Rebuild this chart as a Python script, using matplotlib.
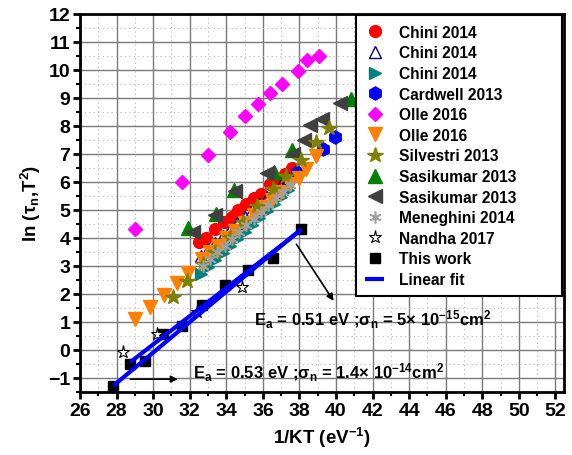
import numpy as np
import matplotlib
matplotlib.use("Agg")
import matplotlib.pyplot as plt
from matplotlib.ticker import MultipleLocator

plt.rcParams['font.family'] = ['Liberation Sans', 'DejaVu Sans']
plt.rcParams['font.weight'] = 'bold'
plt.rcParams['mathtext.fontset'] = 'custom'
plt.rcParams['mathtext.bf'] = 'Liberation Sans:bold'
plt.rcParams['mathtext.rm'] = 'Liberation Sans:bold'
plt.rcParams['mathtext.it'] = 'Liberation Sans:bold'
plt.rcParams['mathtext.default'] = 'bf'

# ---------------- data ----------------
chini1_x = [32.5, 32.9, 33.4, 33.85, 34.3, 34.65, 35.1, 35.5, 35.9, 36.4, 36.75, 37.2, 37.6]
chini1_y = [3.84, 4.0, 4.3, 4.55, 4.75, 4.98, 5.2, 5.42, 5.56, 5.9, 6.1, 6.28, 6.5]

chini2_x = [32.6, 33.0, 33.4, 33.8, 34.2, 34.6, 35.0, 35.4, 35.8, 36.2, 36.6, 37.0, 37.4, 37.8]
chini2_y = [3.35, 3.58, 3.82, 4.05, 4.28, 4.52, 4.75, 4.98, 5.21, 5.45, 5.68, 5.91, 6.14, 6.37]

chini3_x = [32.6, 33.0, 33.4, 33.8, 34.2, 34.6, 35.0, 35.4, 35.8, 36.2, 36.6, 37.0, 37.4]
chini3_y = [2.72, 2.97, 3.22, 3.47, 3.72, 3.97, 4.22, 4.46, 4.71, 4.96, 5.21, 5.46, 5.70]

cardwell_x = [37.84, 39.3, 39.97]
cardwell_y = [6.36, 7.18, 7.58]

olle1_x = [29.0, 31.56, 33.0, 34.2, 35.0, 35.75, 36.4, 37.05, 37.9, 38.4, 39.05]
olle1_y = [4.3, 5.97, 6.96, 7.76, 8.33, 8.76, 9.17, 9.5, 9.96, 10.35, 10.48]

olle2_x = [29.0, 29.8, 30.6, 31.28, 31.89, 32.65, 33.1, 33.55, 34.0, 34.5, 35.0, 35.5,
           36.0, 36.5, 37.0, 37.5, 38.0, 38.38, 38.92]
olle2_y = [1.1, 1.54, 1.96, 2.37, 2.73, 3.25, 3.48, 3.72, 3.98, 4.25, 4.52, 4.8,
           5.08, 5.35, 5.62, 5.9, 6.12, 6.45, 6.93]

silvestri_x = [31.1, 31.83, 32.74, 33.38, 34.2, 34.93, 35.66, 36.56, 37.26, 38.11, 38.93, 39.6]
silvestri_y = [1.87, 2.46, 3.06, 3.48, 4.01, 4.55, 5.14, 5.74, 6.21, 6.77, 7.4, 7.91]

sasi1_x = [31.9, 33.45, 34.4, 36.6, 37.6, 40.8]
sasi1_y = [4.35, 4.85, 5.7, 6.35, 7.12, 8.95]

sasi2_x = [32.2, 33.4, 34.45, 36.25, 37.65, 38.25, 38.6, 39.25, 40.2]
sasi2_y = [4.2, 4.8, 5.65, 6.3, 6.97, 7.5, 8.03, 8.22, 8.82]

meneghini_x = [32.7, 33.1, 33.5, 33.9, 34.3, 34.7, 35.1, 35.5, 35.9, 36.3, 36.7, 37.1, 37.5]
meneghini_y = [3.0, 3.24, 3.48, 3.72, 3.96, 4.2, 4.44, 4.68, 4.92, 5.16, 5.4, 5.64, 5.88]

nandha_x = [28.37, 30.19, 32.37, 34.84]
nandha_y = [-0.09, 0.56, 1.33, 2.23]

thiswork_x = [27.82, 28.73, 29.55, 30.55, 31.56, 32.65, 33.92, 35.2, 36.56, 38.11]
thiswork_y = [-1.29, -0.51, -0.39, 0.56, 0.86, 1.6, 2.31, 2.86, 3.26, 4.31]

# linear fits: (x start, x end, slope, intercept)
fit1 = (27.82, 38.11, 0.544, -16.42)
fit2 = (28.73, 38.11, 0.505, -14.96)

label_fit1 = r"E$_{a}$ = 0.53 eV ;σ$_{n}$ = 1.4× 10$^{-14}$cm$^{2}$"
label_fit2 = r"E$_{a}$ = 0.51 eV ;σ$_{n}$ = 5× 10$^{-15}$cm$^{2}$"

# ---------------- figure ----------------
fig = plt.figure(figsize=(5.72, 4.56), dpi=100)
ax = fig.add_axes([0.140, 0.1375, 0.846, 0.8305])

ax.set_xlim(26, 52.47)
ax.set_ylim(-1.52, 12)

ax.xaxis.set_major_locator(MultipleLocator(2))
ax.xaxis.set_minor_locator(MultipleLocator(1))
ax.yaxis.set_major_locator(MultipleLocator(1))
ax.yaxis.set_minor_locator(MultipleLocator(0.5))
ax.grid(which='major', color='#7a7a7a', linewidth=1.0, linestyle='-')
ax.grid(which='minor', color='#b8b8b8', linewidth=0.8, linestyle=(0, (1, 3)))
ax.set_axisbelow(True)

for s in ax.spines.values():
    s.set_linewidth(2.0)
ax.tick_params(which='major', direction='out', length=5, width=2, labelsize=14,
               top=False, right=False, pad=2)
ax.tick_params(which='minor', direction='out', length=3, width=1.5, top=False, right=False)
for lbl in ax.get_xticklabels() + ax.get_yticklabels():
    lbl.set_fontweight('bold')

ms = 8.5
ax.plot(chini1_x, chini1_y, 'o', color='#FF0000', ms=ms, label='Chini 2014', zorder=4)
ax.plot(chini2_x, chini2_y, '^', mfc='none', mec='#00008B', mew=1.0, ms=ms, label='Chini 2014', zorder=4)
ax.plot(chini3_x, chini3_y, '>', color='#008080', ms=ms, label='Chini 2014', zorder=3)
ax.plot(cardwell_x, cardwell_y, 'h', color='#0000FF', ms=ms + 1, label='Cardwell 2013', zorder=4)
ax.plot(olle1_x, olle1_y, 'D', color='#FF00FF', ms=7.5, label='Olle 2016', zorder=4)
ax.plot(olle2_x, olle2_y, 'v', color='#FF8000', ms=ms + 1, label='Olle 2016', zorder=4)
ax.plot(silvestri_x, silvestri_y, '*', color='#808000', ms=ms + 3, label='Silvestri 2013', zorder=5)
ax.plot(sasi1_x, sasi1_y, '^', color='#008000', ms=ms + 1, label='Sasikumar 2013', zorder=4)
ax.plot(sasi2_x, sasi2_y, '<', color='#404040', ms=ms + 1, label='Sasikumar 2013', zorder=4)
ax.plot(meneghini_x, meneghini_y, marker=(6, 2, 0), ls='none', color='#A0A0A0', mew=1.2,
        ms=ms, label='Meneghini 2014', zorder=5)
ax.plot(nandha_x, nandha_y, '*', mfc='white', mec='black', mew=0.8, ms=ms + 1,
        label='Nandha 2017', zorder=6)
ax.plot(thiswork_x, thiswork_y, 's', color='black', ms=6.5, label='This work', zorder=5)

for i, f in enumerate([fit1, fit2]):
    xx = np.array([f[0], f[1]])
    yy = f[2] * xx + f[3]
    ax.plot(xx, yy, '-', color='#0000FF', lw=3, solid_capstyle='butt',
            label='Linear fit' if i == 0 else None, zorder=6)

# annotations
ax.annotate('', xy=(31.5, -1.05), xytext=(28.6, -1.05),
            arrowprops=dict(arrowstyle='-|>', color='black', lw=1.2, mutation_scale=10))
ax.text(32.2, -0.8, label_fit1, fontsize=12, fontweight='bold', va='center', ha='left')
ax.annotate('', xy=(39.95, 1.66), xytext=(37.75, 3.85),
            arrowprops=dict(arrowstyle='-|>', color='black', lw=1.2, mutation_scale=10))
ax.text(35.5, 1.1, label_fit2, fontsize=12, fontweight='bold', va='center', ha='left')

ax.set_xlabel(r"1/KT (eV$^{-1}$)", fontsize=13.5, fontweight='bold', labelpad=4)
ax.set_ylabel(r"ln (τ$_{n}$,T$^{2}$)", fontsize=13.5, fontweight='bold', labelpad=4)

leg = ax.legend(loc='upper left', bbox_to_anchor=(0.570, 0.255, 0.426, 0.740), mode='expand',
                fontsize=11.2, frameon=True, fancybox=False, edgecolor='black', framealpha=1,
                labelspacing=0.36, handletextpad=1.0, borderpad=0.6, handlelength=1.2,
                borderaxespad=0)
leg.get_frame().set_linewidth(1.5)
for t in leg.get_texts():
    t.set_fontweight('bold')

fig.savefig('out.png', dpi=100)
